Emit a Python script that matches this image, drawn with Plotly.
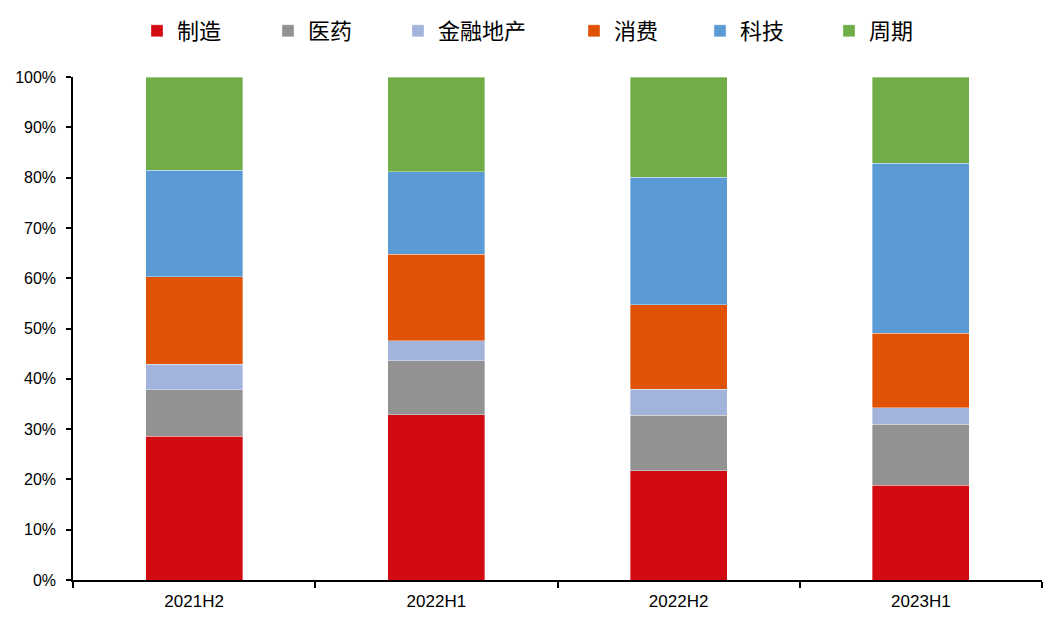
import plotly.graph_objects as go

categories = ["2021H2", "2022H1", "2022H2", "2023H1"]
series_names = ["制造", "医药", "金融地产", "消费", "科技", "周期"]
manufacturing = [0.2857, 0.3286, 0.2173, 0.1883]
pharma = [0.0926, 0.1074, 0.1107, 0.1218]
finance_realestate = [0.0505, 0.0397, 0.0517, 0.0324]
consumption = [0.1742, 0.1718, 0.1676, 0.1480]
technology = [0.2115, 0.1642, 0.2533, 0.3379]
cyclical = [0.1855, 0.1883, 0.1994, 0.1716]
series_values = [manufacturing, pharma, finance_realestate, consumption, technology, cyclical]
colors = ["#D20A11", "#929292", "#A2B4DC", "#E05206", "#5B9BD5", "#70AD47"]
y_ticks = [i / 10 for i in range(11)]
y_tick_labels = [f"{i * 10}%" for i in range(11)]

# page offset of the plot div (browser default body margin)
OFF = 8
legend_centers_px = [152, 283, 413, 589, 715, 844]
legend_keys = ["legend", "legend2", "legend3", "legend4", "legend5", "legend6"]

fig = go.Figure()
for name, vals, col, lk in zip(series_names, series_values, colors, legend_keys):
    fig.add_trace(go.Bar(
        x=categories, y=vals, name=name, legend=lk,
        marker=dict(color=col, line=dict(color="rgba(255,255,255,0.6)", width=0.6)),
    ))

W, H = 1053 - OFF, 621 - OFF
layout_legends = {}
for lk, cx in zip(legend_keys, legend_centers_px):
    layout_legends[lk] = dict(
        xref="container", yref="container",
        x=(cx - OFF - 18 + 3) / W, xanchor="left",
        y=1 - (31 - OFF) / H, yanchor="middle",
        orientation="h", bgcolor="rgba(0,0,0,0)", borderwidth=0,
        font=dict(family="Noto Sans CJK SC", size=22, color="#000000"),
    )

fig.update_layout(
    width=W, height=H,
    barmode="stack", bargap=0.6,
    plot_bgcolor="white", paper_bgcolor="white",
    margin=dict(l=73 - OFF, r=11, t=77 - OFF, b=41),
    showlegend=True,
    font=dict(family="Liberation Sans", size=16, color="#000000"),
    **layout_legends,
)
fig.update_yaxes(
    range=[0, 1], tickvals=y_ticks, ticktext=y_tick_labels,
    showgrid=False, zeroline=False, automargin=False,
    showline=True, linecolor="#000000", linewidth=1.5,
    ticks="outside", ticklen=5, tickwidth=1.5, tickcolor="#000000",
    ticklabelstandoff=7,
    tickfont=dict(family="Liberation Sans", size=16, color="#000000"),
)
fig.update_xaxes(
    type="category", showgrid=False, zeroline=False, automargin=False,
    showline=True, linecolor="#000000", linewidth=1.5,
    ticks="outside", ticklen=6, tickwidth=1.5, tickcolor="#000000",
    tickson="boundaries", ticklabelstandoff=5,
    tickfont=dict(family="Liberation Sans", size=17, color="#000000"),
)

fig.write_html("out.html")
